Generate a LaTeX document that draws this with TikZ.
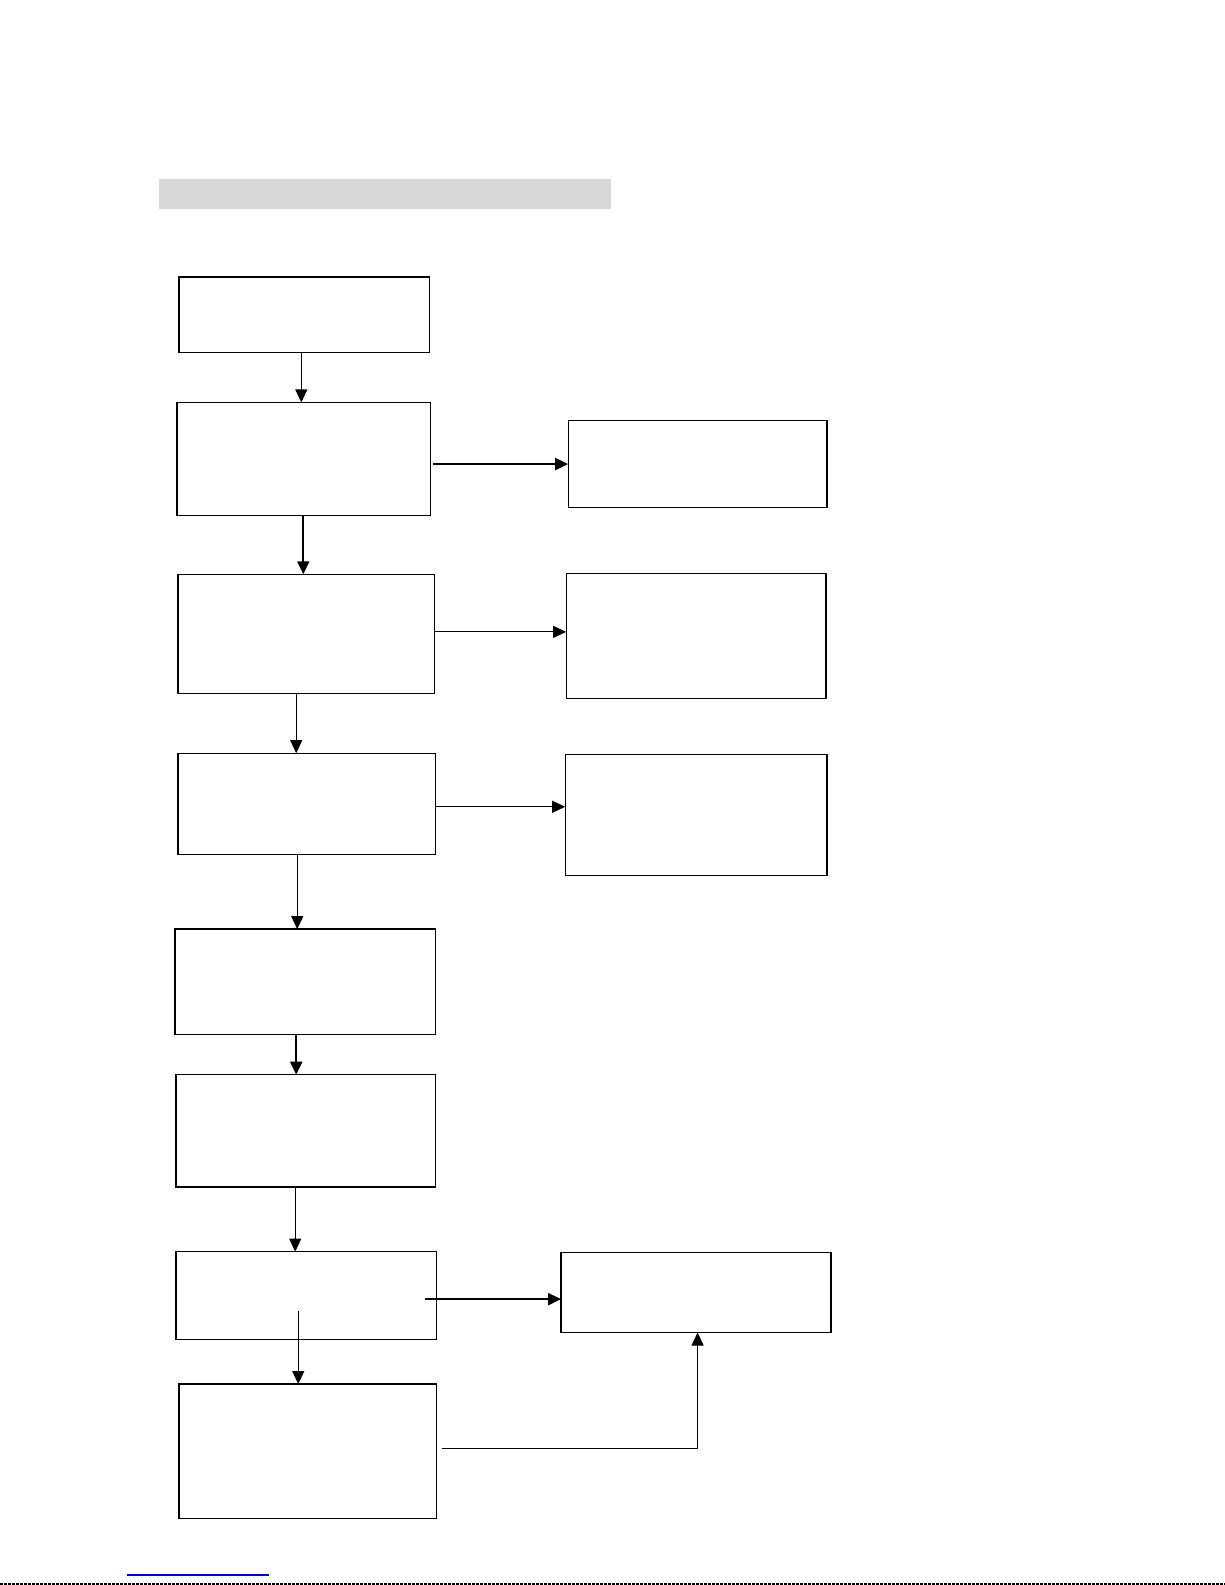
\documentclass[tikz,border=0pt]{standalone}
\usetikzlibrary{arrows.meta}
\begin{document}
\begin{tikzpicture}[x=1.011pt,y=-1.011pt,
  boxc/.style={draw=black,line width=1.3pt,fill=white},
  thin arrow/.style={-{Triangle[length=13pt,width=12pt]},line width=0.9pt},
  thick arrow/.style={-{Triangle[length=13pt,width=12pt]},line width=2pt}]
\useasboundingbox (0pt,0pt) rectangle (1225pt,-1585pt);
\fill[white] (0pt,0pt) rectangle (1225pt,-1585pt);
% grey bar
\fill[gray!30] (157,177) rectangle (604,207);
% boxes
\draw[boxc] (177,274) rectangle (425,349);
\draw[boxc] (175,398) rectangle (426,510);
\draw[boxc] (562,416) rectangle (818,502);
\draw[boxc] (176,568) rectangle (430,686);
\draw[boxc] (560,567) rectangle (817,691);
\draw[boxc] (176,745) rectangle (431,845);
\draw[boxc] (559,746) rectangle (818,866);
\draw[boxc] (173,919) rectangle (431,1023);
\draw[boxc] (174,1063) rectangle (431,1174);
\draw[boxc] (174,1238) rectangle (432,1325);
\draw[boxc] (555,1239) rectangle (822,1318);
\draw[boxc] (177,1369) rectangle (432,1502);
% named anchor points
\coordinate (a1) at (298,349); \coordinate (a2) at (298,398);
\coordinate (c1) at (428,459); \coordinate (c2) at (562,459);
\coordinate (d1) at (300,510); \coordinate (d2) at (300,568);
\coordinate (e1) at (430,625); \coordinate (e2) at (560,625);
\coordinate (f1) at (293,686); \coordinate (f2) at (293,745);
\coordinate (g1) at (431,798); \coordinate (g2) at (559,798);
\coordinate (h1) at (294,845); \coordinate (h2) at (294,919);
\coordinate (i1) at (293,1023); \coordinate (i2) at (293,1063);
\coordinate (j1) at (292,1174); \coordinate (j2) at (292,1238);
\coordinate (k1) at (420,1285); \coordinate (k2) at (555,1285);
\coordinate (l1) at (295,1297); \coordinate (l2) at (295,1369);
\coordinate (m1) at (437,1433); \coordinate (m2) at (690,1433); \coordinate (m3) at (690,1318);
% connectors
\draw[thin arrow] (a1) -- (a2);
\draw[thick arrow] (c1) -- (c2);
\draw[thick arrow] (d1) -- (d2);
\draw[thin arrow] (e1) -- (e2);
\draw[thin arrow] (f1) -- (f2);
\draw[thin arrow] (g1) -- (g2);
\draw[thin arrow] (h1) -- (h2);
\draw[thick arrow] (i1) -- (i2);
\draw[thin arrow] (j1) -- (j2);
\draw[thick arrow] (k1) -- (k2);
\draw[thin arrow] (l1) -- (l2);
\draw[thin arrow] (m1) -- (m2) -- (m3);
% footer
\draw[blue!80!black,line width=1.5pt] (127pt,-1575pt) -- (269pt,-1575pt);
\draw[black,line width=2pt,dash pattern=on 3pt off 1pt] (0pt,-1584pt) -- (1225pt,-1584pt);
\end{tikzpicture}
\end{document}
